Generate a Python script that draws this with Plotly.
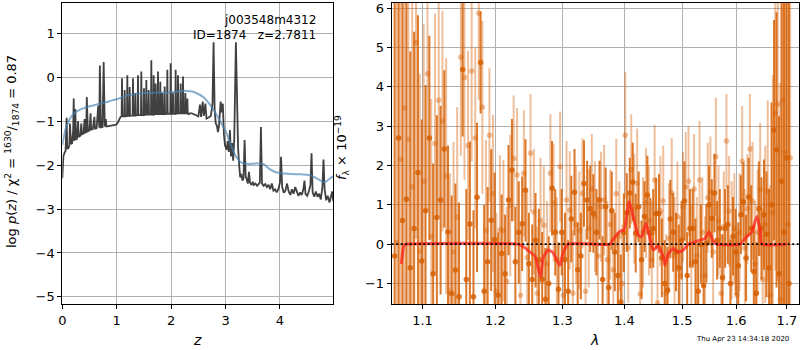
import plotly.graph_objects as go

# ---------------- redshift fit: log p(z) ----------------
z_grid = [
    # z < 1
    0.00, 0.01, 0.02, 0.04, 0.06, 0.08, 0.09, 0.11, 0.13, 0.14,
    0.16, 0.18, 0.20, 0.21, 0.22, 0.24, 0.25, 0.27, 0.29, 0.30,
    0.33, 0.35, 0.36, 0.39, 0.41, 0.42, 0.44, 0.45, 0.47, 0.50,
    0.52, 0.53, 0.56, 0.59, 0.60, 0.63, 0.66, 0.68, 0.69, 0.71,
    0.74, 0.76, 0.78, 0.80, 0.81, 0.85, 0.90, 0.95, 0.99,
    # 1 < z < 2.3: forest of narrow peaks
    1.02, 1.05, 1.07,
    1.090, 1.097, 1.104, 1.139, 1.146, 1.153, 1.188, 1.195, 1.202,
    1.231, 1.238, 1.245, 1.292, 1.299, 1.306, 1.335, 1.342, 1.349,
    1.384, 1.391, 1.398, 1.445, 1.452, 1.459, 1.494, 1.501, 1.508,
    1.537, 1.544, 1.551, 1.580, 1.587, 1.594, 1.629, 1.636, 1.643,
    1.672, 1.679, 1.686, 1.709, 1.716, 1.723, 1.752, 1.759, 1.766,
    1.794, 1.801, 1.808, 1.831, 1.838, 1.845, 1.874, 1.881, 1.888,
    1.923, 1.930, 1.937, 1.984, 1.991, 1.998, 2.027, 2.034, 2.041,
    2.076, 2.083, 2.090, 2.119, 2.126, 2.133, 2.168, 2.175, 2.182,
    2.211, 2.218, 2.225, 2.254, 2.261, 2.268, 2.291, 2.298, 2.305,
    2.32,
    # 2.3 < z < 3.3
    2.34, 2.38, 2.42, 2.46, 2.50, 2.53, 2.55, 2.58, 2.60, 2.63,
    2.65, 2.68, 2.70, 2.73, 2.76, 2.78, 2.80, 2.82, 2.84, 2.86,
    2.88, 2.91, 2.93, 2.95, 2.97, 2.99, 3.02, 3.04, 3.06, 3.08,
    3.10, 3.12, 3.14, 3.16, 3.19, 3.21, 3.23, 3.25,
    # z > 3.3
    3.27, 3.29, 3.31, 3.33, 3.35, 3.37, 3.39, 3.41, 3.43, 3.45,
    3.48, 3.50, 3.52, 3.55, 3.58, 3.61, 3.63, 3.65, 3.67, 3.70,
    3.73, 3.76, 3.79, 3.82, 3.85, 3.88, 3.91, 3.94, 3.97, 4.00,
    4.02, 4.04, 4.07, 4.10, 4.13, 4.16, 4.19, 4.22, 4.25, 4.28,
    4.31, 4.34, 4.37, 4.40, 4.43, 4.45, 4.47, 4.50, 4.53, 4.56,
    4.58, 4.60, 4.63, 4.66, 4.69, 4.72, 4.75, 4.78, 4.80, 4.82,
    4.85, 4.88, 4.91, 4.94, 4.96, 4.98,
]
logp_chi2 = [
    -2.30, -2.00, -1.80, -1.72, -1.68, -0.92, -1.62, -1.62, -1.55, -1.05,
    -1.52, -1.50, -1.20, -0.48, -1.45, -0.72, -1.42, -1.40, -1.00, -1.36,
    -1.33, -1.05, -1.30, -1.28, -0.95, -1.26, -1.25, -0.45, -1.23, -1.21,
    -0.82, -1.19, -1.18, -0.90, -1.17, -1.16, -0.65, -1.15, 0.27, -1.14,
    -1.13, 0.35, -1.12, -0.95, -1.12, -1.11, -1.10, -1.09, -1.08,
    -1.03, -0.95, -0.90,
    -0.89, -0.02, -0.89, -0.89, -0.29, -0.89, -0.88, 0.05, -0.88,
    -0.88, -0.22, -0.88, -0.87, -0.02, -0.87, -0.87, -0.36, -0.87,
    -0.86, 0.05, -0.86, -0.86, 0.13, -0.86, -0.86, -0.25, -0.86,
    -0.85, -0.06, -0.85, -0.85, -0.29, -0.85, -0.85, 0.39, -0.85,
    -0.85, 0.05, -0.85, -0.84, -0.14, -0.84, -0.84, 0.13, -0.84,
    -0.84, -0.10, -0.84, -0.84, -0.36, -0.84, -0.84, -0.21, -0.84,
    -0.83, 0.17, -0.83, -0.83, 0.32, -0.83, -0.83, -0.36, -0.83,
    -0.83, 0.17, -0.83, -0.82, 0.05, -0.82, -0.82, -0.14, -0.82,
    -0.82, 0.02, -0.82, -0.82, -0.36, -0.82, -0.82, -0.48, -0.82,
    -0.84,
    -0.82, -0.82, -0.84, -0.86, -0.89, -0.62, -0.90, -0.55, -0.88, -0.60,
    -0.94, -0.92, -0.90, -0.88, -0.60, 0.80, -0.75, -1.05, -1.10, -1.25,
    -1.10, -0.55, -0.80, -0.60, -1.30, -1.55, -1.65, -1.45, -1.70, -1.20,
    -1.80, -1.50, -1.90, -1.40, 0.80, -1.00, -1.60, -2.00,
    -2.28, -2.20, -2.35, -2.30, -1.43, -2.25, -2.38, -2.42, -2.15, -2.40,
    -2.45, -2.38, -2.45, -2.42, -2.47, -2.44, -2.40, -1.13, -2.42, -2.47,
    -2.43, -2.50, -2.45, -2.55, -2.42, -2.58, -2.55, -2.62, -2.55, -2.40,
    -1.81, -2.50, -2.63, -2.58, -2.42, -2.60, -2.68, -2.55, -2.65, -2.50,
    -2.62, -2.70, -2.62, -2.68, -2.55, -2.35, -2.66, -2.70, -2.60, -2.45,
    -1.73, -2.62, -2.72, -2.60, -2.72, -2.65, -2.78, -2.50, -1.87, -2.55,
    -2.80, -2.70, -2.85, -2.72, -2.60, -2.82,
]
z_smooth = [
    0.00, 0.03, 0.06, 0.10, 0.15, 0.20, 0.30, 0.40, 0.50, 0.60,
    0.70, 0.80, 0.90, 1.00, 1.10, 1.20, 1.30, 1.40, 1.50, 1.60,
    1.70, 1.80, 1.90, 2.00, 2.10, 2.20, 2.30, 2.40, 2.50, 2.60,
    2.70, 2.80, 2.90, 3.00, 3.10, 3.20, 3.30, 3.40, 3.50, 3.60,
    3.70, 3.80, 3.90, 4.00, 4.20, 4.40, 4.50, 4.60, 4.70, 4.80,
    4.85, 4.90, 4.98,
]
logp_smooth = [
    -1.55, -1.35, -1.18, -1.05, -0.92, -0.84, -0.75, -0.70, -0.66, -0.63,
    -0.60, -0.57, -0.53, -0.50, -0.45, -0.41, -0.39, -0.37, -0.36, -0.35,
    -0.35, -0.34, -0.35, -0.34, -0.33, -0.31, -0.31, -0.33, -0.38, -0.46,
    -0.60, -0.78, -1.00, -1.22, -1.55, -1.82, -1.95, -1.97, -1.97, -1.96,
    -1.98, -2.08, -2.15, -2.18, -2.20, -2.21, -2.22, -2.25, -2.32, -2.38,
    -2.37, -2.32, -2.25,
]

# ---------------- 1D spectrum (two beams) ----------------
wave_a = [
    1.064, 1.069, 1.074, 1.079, 1.084, 1.089, 1.094, 1.099, 1.104, 1.109,
    1.114, 1.119, 1.124, 1.129, 1.134, 1.139, 1.144, 1.149, 1.154, 1.159,
    1.164, 1.169, 1.174, 1.179, 1.184, 1.189, 1.194, 1.199, 1.204, 1.209,
    1.214, 1.219, 1.224, 1.229, 1.234, 1.239, 1.244, 1.249, 1.254, 1.259,
    1.264, 1.269, 1.274, 1.279, 1.284, 1.289, 1.294, 1.299, 1.304, 1.309,
    1.314, 1.319, 1.324, 1.329, 1.334, 1.339, 1.344, 1.349, 1.354, 1.359,
    1.364, 1.369, 1.374, 1.379, 1.384, 1.389, 1.394, 1.399, 1.404, 1.409,
    1.414, 1.419, 1.424, 1.429, 1.434, 1.439, 1.444, 1.449, 1.454, 1.459,
    1.464, 1.469, 1.474, 1.479, 1.484, 1.489, 1.494, 1.499, 1.504, 1.509,
    1.514, 1.519, 1.524, 1.529, 1.534, 1.539, 1.544, 1.549, 1.554, 1.559,
    1.564, 1.569, 1.574, 1.579, 1.584, 1.589, 1.594, 1.599, 1.604, 1.609,
    1.614, 1.619, 1.624, 1.629, 1.634, 1.639, 1.644, 1.649, 1.654, 1.659,
    1.664, 1.669, 1.674, 1.679, 1.684, 1.689, 1.694, 1.699, 1.704,
]
flux_a = [
    -0.30, 2.70, 0.60, 1.14, -0.60, 0.40, 1.82, -0.43, 0.85, 2.70,
    -0.75, 0.68, 1.12, 2.42, 0.31, -1.26, -0.66, -1.34, 4.44, -0.90,
    0.51, -1.34, 1.19, 4.62, -1.20, -0.45, 0.61, 0.12, -1.30, -0.24,
    -0.75, 1.12, 1.88, -0.45, 0.30, 0.52, 1.37, -0.50, -0.90, 0.10,
    -0.40, -0.89, -1.40, -1.00, 1.42, 0.30, -1.15, 0.30, -0.40, -1.20,
    0.64, 1.32, -0.65, -0.30, 1.54, 1.12, 0.90, 0.78, 0.30, 1.12,
    -0.90, 0.95, -1.10, 0.85, -0.20, -0.80, -1.47, 0.29, 0.80, 1.30,
    1.58, 0.28, 0.95, -0.40, 0.70, 1.25, 0.28, 0.40, 0.78, 0.78,
    -0.35, -1.00, -1.17, 0.64, 0.30, -0.20, -0.60, 0.10, 1.10, -0.80,
    0.40, 0.40, -0.45, -1.20, 0.00, -1.05, 0.02, 1.00, 0.65, 1.30,
    0.10, 0.40, -0.85, 0.40, 0.50, -1.00, 0.20, -0.20, -0.55, 0.75,
    1.08, -0.35, 1.20, 0.40, -0.70, -1.25, 0.90, 0.40, 0.75, 0.25,
    -0.60, 1.00, 2.90, 2.40, -0.75, 1.60, 0.30, 2.20, -1.00,
]
err_a = [
    9.0, 7.0, 6.5, 6.0, 5.5, 5.0, 4.0, 3.6, 3.2, 2.6,
    2.8, 2.6, 2.4, 2.0, 2.2, 2.5, 2.2, 2.4, 1.7, 2.3,
    2.1, 2.2, 1.9, 1.3, 2.2, 1.9, 1.8, 1.7, 1.6, 1.5,
    1.5, 1.4, 1.3, 1.4, 1.3, 1.2, 1.3, 1.3, 1.4, 1.2,
    1.3, 1.2, 1.3, 1.2, 1.2, 1.1, 1.2, 1.1, 1.2, 1.3,
    1.1, 1.1, 1.2, 1.1, 1.1, 1.0, 1.1, 1.0, 1.1, 1.0,
    1.1, 1.0, 1.1, 1.0, 1.0, 1.1, 1.2, 1.0, 1.0, 0.9,
    1.0, 1.0, 0.9, 1.0, 0.9, 1.0, 0.9, 1.0, 0.9, 1.0,
    1.0, 1.1, 1.1, 1.0, 1.0, 1.0, 1.1, 1.0, 1.0, 1.1,
    1.0, 1.0, 1.1, 1.2, 1.0, 1.1, 1.0, 1.0, 1.0, 1.0,
    1.0, 1.0, 1.1, 1.0, 1.0, 1.1, 1.0, 1.1, 1.1, 1.0,
    1.0, 1.1, 1.0, 1.1, 1.2, 1.3, 1.2, 1.3, 1.4, 1.6,
    2.0, 2.6, 2.8, 3.5, 4.0, 5.0, 6.0, 7.0, 8.0,
]

wave_b = [
    1.0665, 1.0715, 1.0765, 1.0815, 1.0865, 1.0915, 1.0965, 1.1015, 1.1065, 1.1115,
    1.1165, 1.1215, 1.1265, 1.1315, 1.1365, 1.1415, 1.1465, 1.1515, 1.1565, 1.1615,
    1.1665, 1.1715, 1.1765, 1.1815, 1.1865, 1.1915, 1.1965, 1.2015, 1.2065, 1.2115,
    1.2165, 1.2215, 1.2265, 1.2315, 1.2365, 1.2415, 1.2465, 1.2515, 1.2565, 1.2615,
    1.2665, 1.2715, 1.2765, 1.2815, 1.2865, 1.2915, 1.2965, 1.3015, 1.3065, 1.3115,
    1.3165, 1.3215, 1.3265, 1.3315, 1.3365, 1.3415, 1.3465, 1.3515, 1.3565, 1.3615,
    1.3665, 1.3715, 1.3765, 1.3815, 1.3865, 1.3915, 1.3965, 1.4015, 1.4065, 1.4115,
    1.4165, 1.4215, 1.4265, 1.4315, 1.4365, 1.4415, 1.4465, 1.4515, 1.4565, 1.4615,
    1.4665, 1.4715, 1.4765, 1.4815, 1.4865, 1.4915, 1.4965, 1.5015, 1.5065, 1.5115,
    1.5165, 1.5215, 1.5265, 1.5315, 1.5365, 1.5415, 1.5465, 1.5515, 1.5565, 1.5615,
    1.5665, 1.5715, 1.5765, 1.5815, 1.5865, 1.5915, 1.5965, 1.6015, 1.6065, 1.6115,
    1.6165, 1.6215, 1.6265, 1.6315, 1.6365, 1.6415, 1.6465, 1.6515, 1.6565, 1.6615,
    1.6665, 1.6715, 1.6765, 1.6815, 1.6865, 1.6915, 1.6965, 1.7015, 1.7065,
]
flux_b = [
    0.05, 2.15, 3.46, 2.66, 1.46, 5.13, -0.18, 1.59, 4.33, 0.19,
    2.56, 3.66, 3.13, 1.73, -1.20, -0.20, 0.69, 4.75, 4.24, 2.51,
    4.40, 2.70, 5.87, 3.48, 0.35, 2.77, 1.29, -1.20, 0.36, 0.34,
    -0.95, 0.98, 2.18, 1.76, -1.30, 1.80, -0.34, 2.31, 0.82, -1.25,
    0.60, 0.48, -0.50, 1.80, 1.05, -0.40, 1.97, -1.30, 1.12, 0.86,
    -1.25, 0.50, 0.35, 1.29, -1.20, 0.40, 1.40, 0.70, -0.30, 0.95,
    1.12, -0.40, 0.50, -0.65, 1.28, 0.20, -1.00, 2.77, -0.10, 1.90,
    0.90, 1.54, -1.27, 0.30, 1.05, 0.60, -0.40, 1.63, -1.50, 0.85,
    1.10, -1.25, 0.15, 1.30, -0.30, 0.70, -0.80, 0.95, 1.45, 1.60,
    -0.50, 1.40, -0.30, 1.63, 0.30, -0.80, 1.18, 1.34, -0.20, 2.22,
    0.60, -1.25, 0.45, 2.62, 0.84, 0.10, 0.40, -1.30, 0.30, 2.11,
    -0.10, 0.90, 2.42, 1.10, -0.50, 0.30, 1.39, -0.90, 0.50, 1.35,
    -1.30, 0.80, 3.33, 3.56, -1.40, 3.66, 2.35, 0.50, 2.20,
]
err_b = [
    9.0, 8.0, 7.0, 6.5, 6.0, 5.0, 4.5, 4.0, 3.5, 3.5,
    3.3, 3.0, 2.8, 3.0, 3.0, 2.8, 2.8, 2.5, 2.6, 2.4,
    2.3, 2.3, 2.2, 2.2, 2.3, 1.7, 2.0, 2.0, 1.9, 1.8,
    1.9, 1.8, 1.6, 1.7, 1.8, 1.6, 1.7, 1.5, 1.6, 1.7,
    1.6, 1.5, 1.6, 1.5, 1.5, 1.6, 1.4, 1.6, 1.5, 1.5,
    1.6, 1.5, 1.5, 1.4, 1.6, 1.5, 1.4, 1.4, 1.5, 1.4,
    1.4, 1.5, 1.4, 1.5, 1.4, 1.4, 1.5, 1.6, 1.4, 1.4,
    1.4, 1.4, 1.5, 1.4, 1.4, 1.4, 1.5, 1.4, 1.5, 1.4,
    1.4, 1.5, 1.4, 1.4, 1.5, 1.4, 1.5, 1.4, 1.4, 1.4,
    1.5, 1.4, 1.5, 1.5, 1.4, 1.5, 1.4, 1.4, 1.5, 1.5,
    1.4, 1.5, 1.4, 1.2, 1.4, 1.5, 1.4, 1.6, 1.5, 1.4,
    1.5, 1.4, 1.4, 1.5, 1.6, 1.6, 1.7, 1.8, 2.0, 2.3,
    2.8, 3.5, 4.0, 4.5, 5.5, 6.0, 7.0, 8.0, 9.0,
]

# best-fit line model
model_wave = [
    1.0725, 1.0760, 1.0790, 1.2333, 1.2420, 1.2505, 1.2580, 1.2666, 1.2704, 1.2780,
    1.2856, 1.2960, 1.3011, 1.3090, 1.3757, 1.3805, 1.3921, 1.3996, 1.4080, 1.4148,
    1.4234, 1.4291, 1.4365, 1.4434, 1.4491, 1.4578, 1.4665, 1.4695, 1.4753, 1.4841,
    1.4930, 1.5020, 1.5110, 1.5200, 1.5320, 1.5412, 1.5488, 1.5567, 1.5631, 1.6075,
    1.6203, 1.6301, 1.6399, 1.6465, 1.6499, 1.6994,
]
model_flux = [
    -0.50, -0.02, 0.00, 0.00, -0.08, -0.20, -0.30, -0.83, -0.35, -0.15,
    -0.22, -0.54, -0.22, 0.00, 0.00, 0.10, 0.32, 0.37, 1.08, 0.70,
    0.23, 0.19, 0.53, 0.15, -0.15, -0.05, -0.33, -0.54, -0.25, -0.11,
    -0.20, -0.15, 0.00, 0.04, 0.10, 0.14, 0.31, 0.08, 0.00, 0.00,
    0.19, 0.31, 0.70, 0.35, 0.00, 0.00,
]

lam_ticks = [1.1, 1.2, 1.3, 1.4, 1.5, 1.6, 1.7]
lam_labels = ["1.1", "1.2", "1.3", "1.4", "1.5", "1.6", "1.7"]

W, H = 800, 350
FONT = "DejaVu Sans"
ORANGE_DARK = "rgba(214,96,4,0.85)"
ORANGE_LIGHT = "rgba(214,96,4,0.40)"

fig = go.Figure()

# left panel
fig.add_trace(go.Scatter(x=z_grid, y=logp_chi2, mode="lines",
                         line=dict(color="rgba(30,30,30,0.85)", width=1.8),
                         xaxis="x", yaxis="y", hoverinfo="skip"))
fig.add_trace(go.Scatter(x=z_smooth, y=logp_smooth, mode="lines",
                         line=dict(color="rgba(70,130,180,0.65)", width=2, shape="spline"),
                         xaxis="x", yaxis="y", hoverinfo="skip"))

# right panel
fig.add_trace(go.Scatter(x=wave_b, y=flux_b, mode="markers",
                         marker=dict(size=5.5, color=ORANGE_LIGHT, line=dict(width=0)),
                         error_y=dict(type="data", array=err_b, visible=True,
                                      color=ORANGE_LIGHT, thickness=2, width=0),
                         xaxis="x2", yaxis="y2", hoverinfo="skip"))
fig.add_trace(go.Scatter(x=wave_a, y=flux_a, mode="markers",
                         marker=dict(size=5.5, color=ORANGE_DARK, line=dict(width=0)),
                         error_y=dict(type="data", array=err_a, visible=True,
                                      color=ORANGE_DARK, thickness=2, width=0),
                         xaxis="x2", yaxis="y2", hoverinfo="skip"))
fig.add_trace(go.Scatter(x=model_wave, y=model_flux, mode="lines",
                         line=dict(color="rgba(255,35,25,0.75)", width=3, shape="spline",
                                   smoothing=0.5),
                         xaxis="x2", yaxis="y2", hoverinfo="skip"))

axis_style = dict(
    showline=True, mirror=True, linecolor="black", linewidth=1,
    ticks="outside", ticklen=4, tickwidth=1, tickcolor="black",
    showgrid=True, gridcolor="#b0b0b0", gridwidth=1, zeroline=False,
    automargin=False,
    tickfont=dict(family=FONT, size=13, color="black"),
)

y_dom = [1 - 304.3 / H, 1 - 2.7 / H]

fig.update_layout(
    width=W, height=H,
    margin=dict(l=0, r=0, t=0, b=0),
    paper_bgcolor="white", plot_bgcolor="white",
    showlegend=False,
    font=dict(family=FONT, size=12, color="black"),
    xaxis=dict(domain=[62.3 / W, 333.3 / W], range=[0, 4.98],
               tickvals=[0, 1, 2, 3, 4], anchor="y", **axis_style),
    yaxis=dict(domain=y_dom, range=[-5.17, 1.70],
               tickvals=[-5, -4, -3, -2, -1, 0, 1], anchor="x", **axis_style),
    xaxis2=dict(domain=[391.7 / W, 799 / W], type="log", range=[0.0254, 0.2367],
                tickvals=lam_ticks, ticktext=lam_labels, anchor="y2", **axis_style),
    yaxis2=dict(domain=y_dom, range=[-1.53, 6.14],
                tickvals=[-1, 0, 1, 2, 3, 4, 5, 6], anchor="x2", **axis_style),
    shapes=[dict(type="line", xref="x2 domain", yref="y2", x0=0, x1=1, y0=0, y1=0,
                 line=dict(color="black", width=1.6, dash="2px,2.5px"), layer="above")],
)

nb = "\u00a0"
annotations = [
    dict(text="j003548m4312", x=318 / W, y=1 - 20 / H, xanchor="right", yanchor="middle",
         font=dict(size=12)),
    dict(text=f"ID=1874{nb*3}z=2.7811", x=318 / W, y=1 - 35 / H,
         xanchor="right", yanchor="middle", font=dict(size=12)),
    dict(text="<i>z</i>", x=197 / W, y=1 - 340 / H, xanchor="center", yanchor="middle",
         font=dict(size=14)),
    dict(text="<i>λ</i>", x=594 / W, y=1 - 340 / H, xanchor="center", yanchor="middle",
         font=dict(size=14)),
    dict(text="log <i>p</i>(<i>z</i>) / χ<sup>2</sup> = <sup>1630</sup>/<sub>1874</sub> = 0.87",
         x=12 / W, y=1 - 152 / H, textangle=-90, xanchor="center", yanchor="middle",
         font=dict(size=13)),
    dict(text="<i>f</i><sub>λ</sub> × 10<sup>−19</sup>",
         x=342 / W, y=1 - 148 / H, textangle=-90, xanchor="center", yanchor="middle",
         font=dict(size=13)),
    dict(text="Thu Apr 23 14:34:18 2020", x=742 / W, y=1 - 339 / H,
         xanchor="center", yanchor="middle", font=dict(size=7)),
]
for a in annotations:
    a["font"] = dict(family=FONT, color="black", **a["font"])
    fig.add_annotation(xref="paper", yref="paper", showarrow=False, **a)

fig.write_html("out.html")
